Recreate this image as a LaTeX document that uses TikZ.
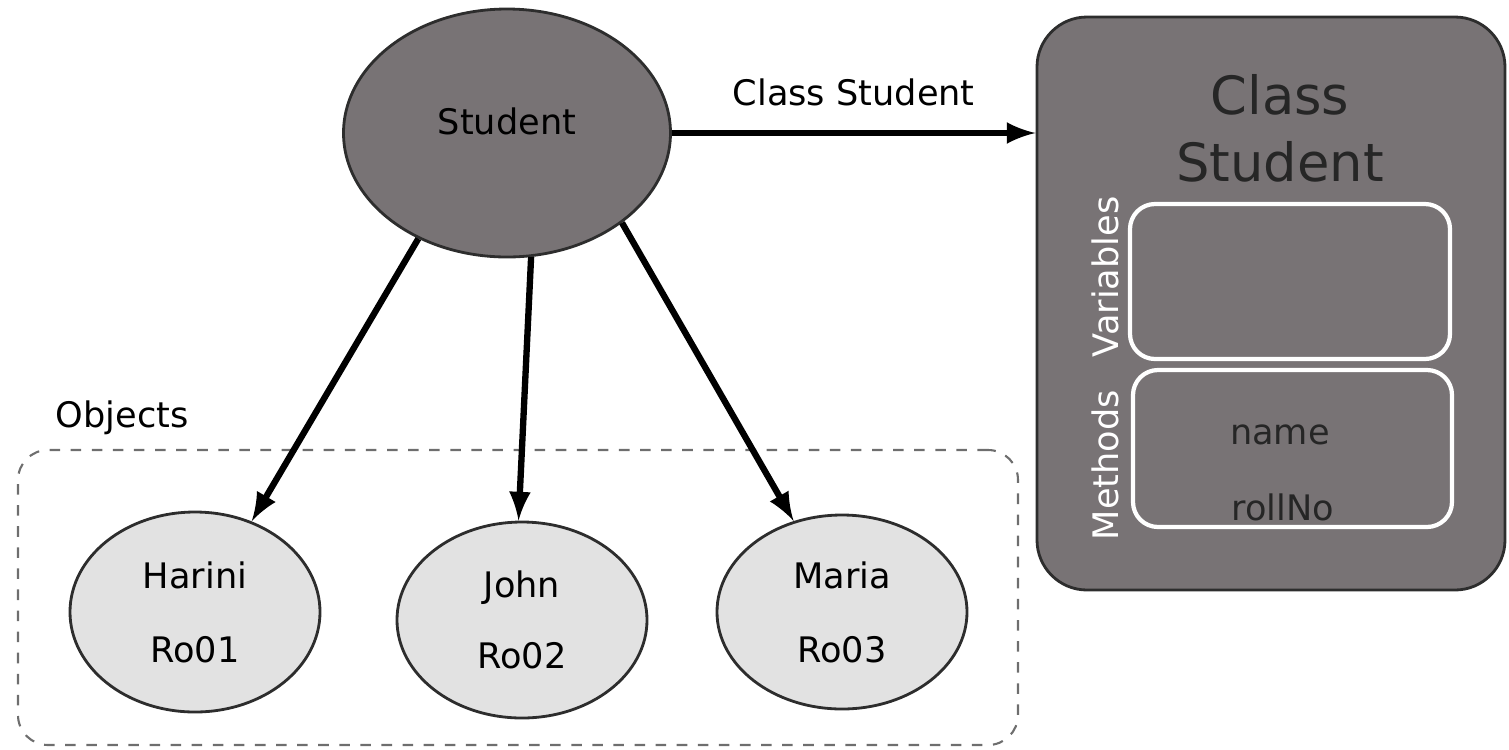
\documentclass[tikz,border=0pt]{standalone}
\usepackage{fontspec}
\setmainfont{DejaVu Sans}
\usetikzlibrary{shapes.geometric}
\definecolor{darkfill}{RGB}{120,115,117}
\definecolor{lightfill}{RGB}{226,226,226}
\definecolor{edgegray}{RGB}{45,45,45}
\definecolor{dashgray}{RGB}{110,110,110}

\begin{document}
\begin{tikzpicture}[main/.style={draw=edgegray, ellipse, line width=0.8pt, inner sep=0pt, align=center, font=\fontsize{10}{12}\selectfont}, obj/.style={main, fill=lightfill, minimum width=2.5cm}, info/.style={rectangle, draw=white, line width=1.2pt, rounded corners=0.25cm, minimum width=3.2cm, minimum height=1.55cm}, side/.style={text=white, rotate=90, font=\fontsize{10}{12}\selectfont}, txt/.style={font=\fontsize{10}{12}\selectfont}, n/.style={-latex, line width=1.8pt}]
            \useasboundingbox (0,0) rectangle (15.09,7.49);
            % objects
            \node[rectangle, draw=dashgray, dashed, rounded corners=0.3cm, line width=0.6pt, minimum width=10cm, minimum height=2.95cm] (objects) at (5.18,1.515) {};
            \node[txt, anchor=west, inner sep=0pt] (objlabel) at (0.55,3.31) {Objects};

            \node[main, fill=darkfill, minimum width=3.27cm, minimum height=2.48cm] (student) at (5.07,6.16) {Student\\[-5pt]};

            \node[obj, minimum height=2.0cm] (harini) at (1.95,1.37) {Harini\\[9pt]Ro01};
            \node[obj, minimum height=1.96cm] (john) at (5.22,1.29) {John\\[8pt]Ro02};
            \node[obj, minimum height=1.94cm] (maria) at (8.42,1.37) {Maria\\[9pt]Ro03};

            % class
            \node[rectangle, draw=edgegray, fill=darkfill, line width=0.8pt, rounded corners=0.5cm, minimum width=4.68cm, minimum height=5.73cm] (classbox) at (12.71,4.455) {};
            \node[align=center, font=\fontsize{15}{19}\selectfont, text=black!85] (title) at (12.80,6.21) {Class\\Student};
            \node[info] (varbox) at (12.90,4.675) {};
            \node[txt, text=black!85] (name) at (12.80,3.14) {name};
            \node[txt, text=black!85] (rollno) at (12.83,2.42) {rollNo};
            \node[info, minimum width=3.19cm, minimum height=1.57cm] (methbox) at (12.925,3.005) {};
            \node[side] (varlabel) at (11.05,4.72) {Variables};
            \node[side] (methlabel) at (11.05,2.84) {Methods};

            % edges
            \draw [->, n] (student.east) -- node[txt, above=0.12cm] (clslabel) {Class Student} (student.east -| classbox.west);
            \draw [->, n] (student.230) -- (harini.58);
            \draw [->, n] (student.281) -- (john.92);
            \draw [->, n] (student.322) -- (maria.118);
        \end{tikzpicture}
\end{document}
